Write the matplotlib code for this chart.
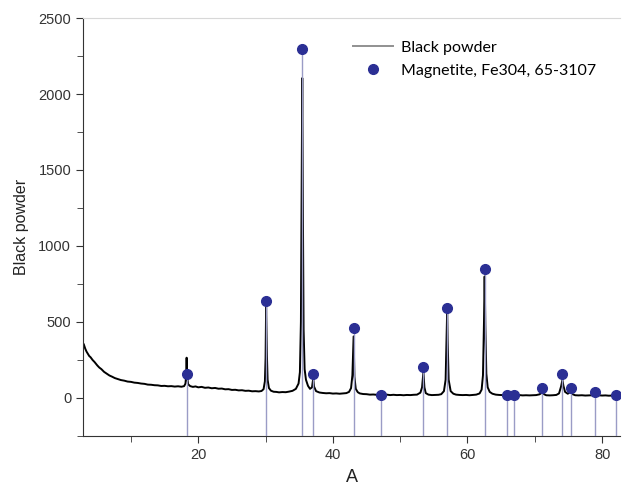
import matplotlib
matplotlib.use("Agg")
import matplotlib.pyplot as plt
from matplotlib.ticker import MultipleLocator

two_theta = [
    3.0, 3.2, 3.4, 3.6, 3.8, 4.0, 4.3, 4.6, 5.0, 5.3, 5.6, 6.0, 6.4, 6.8, 7.2, 7.6,
    8.0, 8.5, 9.0, 9.5, 10.0, 10.5, 11.0, 11.5, 12.0, 12.5, 13.0, 13.5, 14.0, 14.5,
    15.0, 15.5, 16.0, 16.5, 17.0, 17.5, 17.9, 18.1, 18.2, 18.27, 18.35, 18.5, 18.8,
    19.2, 19.6, 20.0, 20.5, 21.0, 21.5, 22.0, 22.5, 23.0, 23.5, 24.0, 24.5, 25.0,
    25.5, 26.0, 26.5, 27.0, 27.5, 28.0, 28.5, 29.0, 29.4, 29.7, 29.9, 30.0, 30.08,
    30.2, 30.3, 30.5, 30.8, 31.2, 31.6, 32.0, 32.5, 33.0, 33.5, 34.0, 34.5, 34.9,
    35.1, 35.25, 35.35, 35.45, 35.55, 35.65, 35.8, 36.0, 36.3, 36.6, 36.9, 37.08,
    37.2, 37.5, 38.0, 38.5, 39.0, 39.5, 40.0, 40.5, 41.0, 41.5, 42.0, 42.4, 42.7,
    42.9, 43.08, 43.2, 43.4, 43.7, 44.0, 44.5, 45.0, 45.5, 46.0, 46.5, 47.0, 47.5,
    48.0, 48.5, 49.0, 49.5, 50.0, 50.5, 51.0, 51.5, 52.0, 52.5, 53.0, 53.25, 53.45,
    53.6, 53.8, 54.2, 54.7, 55.2, 55.7, 56.1, 56.5, 56.75, 56.9, 56.98, 57.05, 57.2,
    57.5, 57.9, 58.3, 58.8, 59.3, 59.8, 60.3, 60.8, 61.3, 61.8, 62.1, 62.3, 62.45,
    62.55, 62.65, 62.8, 63.0, 63.3, 63.7, 64.2, 64.7, 65.2, 65.7, 66.2, 66.7, 67.2,
    67.7, 68.2, 68.7, 69.2, 69.7, 70.2, 70.7, 71.1, 71.4, 71.7, 72.2, 72.7, 73.2,
    73.6, 73.9, 74.1, 74.25, 74.5, 74.9, 75.3, 75.6, 76.0, 76.5, 77.0, 77.5, 78.0,
    78.5, 79.0, 79.4, 80.0, 80.5, 81.0, 81.5, 82.0, 82.7,
]
counts = [
    352, 325, 305, 290, 276, 268, 250, 236, 214, 200, 190, 172, 160, 148, 140, 131,
    125, 118, 114, 108, 106, 101, 99, 95, 93, 88, 87, 84, 83, 79,
    80, 77, 78, 75, 77, 74, 78, 95, 150, 265, 140, 90, 78,
    73, 76, 70, 73, 67, 69, 64, 66, 61, 62, 57, 58, 53,
    54, 50, 51, 47, 48, 44, 45, 43, 46, 58, 110, 260, 600,
    280, 120, 65, 48, 41, 40, 37, 39, 38, 42, 47, 60, 95,
    170, 500, 1300, 2105, 1200, 450, 190, 120, 80, 60, 70, 130,
    75, 45, 36, 33, 31, 32, 29, 30, 28, 30, 32, 40, 65,
    150, 405, 140, 60, 38, 30, 26, 25, 22, 23, 21, 22, 20,
    22, 19, 21, 19, 20, 18, 20, 19, 21, 22, 35, 70, 170,
    70, 32, 22, 19, 20, 21, 25, 45, 120, 400, 575, 380, 120,
    45, 28, 22, 20, 19, 20, 18, 20, 22, 30, 55, 150, 500,
    800, 480, 160, 70, 40, 28, 22, 20, 19, 21, 19, 20, 18,
    19, 17, 18, 17, 18, 19, 24, 36, 24, 18, 17, 18, 20,
    30, 75, 118, 80, 40, 28, 40, 25, 18, 17, 18, 16, 17,
    18, 28, 18, 16, 17, 15, 16, 17, 15,
]

# reference card Magnetite 65-3107: positions and heights of the markers
ref_pos = [18.27, 30.08, 35.45, 37.08, 43.08, 47.1, 53.45, 56.98, 62.55,
           65.8, 66.9, 71.1, 74.1, 75.35, 79.0, 82.0]
ref_int = [160, 640, 2295, 160, 458, 20, 202, 594, 848,
           20, 20, 68, 158, 68, 42, 20]

fig = plt.figure(figsize=(6.22, 4.88), dpi=100)
ax = fig.add_axes([0.1334, 0.1066, 0.8634, 0.8565])

ax.plot(two_theta, counts, color="black", lw=1.4, zorder=2, label="Black powder")
ax.vlines(ref_pos, -250, ref_int, color="#9a9cc6", lw=1.0, zorder=3)
ax.plot(ref_pos, ref_int, "o", color="#2b2f94", ms=7, zorder=4,
        label="Magnetite, Fe304, 65-3107")

ax.set_xlim(2.87, 82.66)
ax.set_ylim(-250, 2500)
ax.xaxis.set_major_locator(MultipleLocator(20))
ax.xaxis.set_minor_locator(MultipleLocator(10))
ax.yaxis.set_major_locator(MultipleLocator(500))
ax.yaxis.set_minor_locator(MultipleLocator(250))
ax.tick_params(which="both", direction="out", colors="#333333", labelsize=10.5)
ax.tick_params(which="major", length=5)
ax.tick_params(which="minor", length=4)
for lab in ax.get_xticklabels() + ax.get_yticklabels():
    lab.set_fontfamily("Liberation Sans")

ax.spines["right"].set_visible(False)
ax.spines["top"].set_color("#d8d8d8")
ax.spines["left"].set_color("#333333")
ax.spines["bottom"].set_color("#333333")

ax.set_xlabel("A", fontsize=13, family="Liberation Sans", color="#222222", labelpad=5)
ax.set_ylabel("Black powder", fontsize=11.5, family="Liberation Sans",
              color="#222222", labelpad=7)

leg = ax.legend(loc="upper left", bbox_to_anchor=(339 / 622, 1 - 26 / 488),
                bbox_transform=fig.transFigure, frameon=False,
                prop={"family": "Lato", "size": 11.5}, handlelength=2.5,
                handletextpad=0.5, labelspacing=0.55)
leg.get_lines()[0].set_color("#909090")

fig.savefig("out.png", dpi=100)
